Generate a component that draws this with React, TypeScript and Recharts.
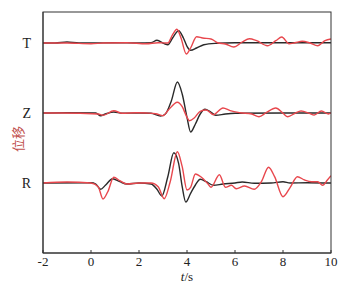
import React from 'react';
import { LineChart, Line, XAxis, YAxis } from 'recharts';

// trace offsets on the y axis (R, Z, T stacked bottom to top)
const traceNames = ['R', 'Z', 'T'];
const traceOffsets = [7, 14, 21];
const xTicks = [-2, 0, 2, 4, 6, 8, 10];
const xDomain = [-2, 10];
const yDomain = [0, 24.1];

// T component
const tBlackT = [-2, -1.5, -1, -0.5, 0, 1, 2, 2.5, 2.75, 3.05, 3.2, 3.4, 3.65, 3.85, 4.0, 4.15, 4.4, 4.7, 5.2, 6, 8, 10];
const blackT = [0, 0, 0.1, 0, 0, 0.02, 0, 0.03, 0.27, -0.07, -0.17, 0.5, 1.23, 0.5, -0.33, -0.73, -0.5, -0.17, -0.03, 0.03, 0.03, 0.03];
const tRedT = [-2, -1, 0, 0.5, 1.5, 2.3, 2.8, 3.2, 3.4, 3.58, 3.75, 3.97, 4.15, 4.4, 4.65, 5.0, 5.3, 5.6, 5.95, 6.3, 6.6, 6.9, 7.35, 7.7, 7.95, 8.25, 8.5, 8.8, 9.1, 9.45, 9.75, 10];
const redT = [0, 0, -0.07, 0, 0.03, -0.07, 0.03, 0, 0.83, 1.37, 0.5, -1.1, -0.5, 0.63, 0.5, 0.4, 0, -0.1, -0.4, 0.1, 0.43, 0.23, -0.27, 0.23, 0.6, -0.07, 0.03, 0.17, 0.03, -0.27, 0.23, 0.4];

// Z component
const tBlackZ = [-2, -1, 0.2, 0.4, 0.6, 0.95, 1.3, 2.0, 2.5, 2.9, 3.1, 3.35, 3.6, 3.8, 4.0, 4.15, 4.35, 4.55, 4.75, 4.95, 5.2, 5.6, 6.0, 8, 10];
const blackZ = [0, 0.03, 0, -0.27, -0.1, 0.1, -0.03, 0, -0.03, -0.3, -0.1, 1.23, 3.1, 1.9, -0.43, -1.9, -1.1, -0.1, 0.37, 0.17, -0.23, -0.1, -0.03, 0, 0];
const tRedZ = [-2, -1.2, 0.3, 0.5, 0.95, 1.3, 1.9, 2.3, 2.7, 3.0, 3.2, 3.6, 3.8, 4.0, 4.1, 4.3, 4.55, 4.8, 5.1, 5.5, 5.8, 6.2, 6.7, 7.0, 7.3, 7.7, 8.0, 8.2, 8.5, 8.75, 9.1, 9.3, 9.6, 9.9, 10];
const redZ = [0, 0, -0.1, -0.23, 0.23, -0.03, 0.03, 0, -0.07, -0.27, 0.23, 1.07, 0.63, -0.43, -0.77, -0.5, 0.17, 0.3, -0.17, 0.5, 0.23, 0.03, -0.1, -0.37, 0.03, 0.5, -0.03, -0.37, -0.03, 0.2, -0.03, -0.2, 0.2, -0.1, 0.03];

// R component
const tBlackR = [-2, 0, 0.2, 0.4, 0.6, 0.9, 1.2, 1.5, 2.0, 2.5, 2.75, 2.95, 3.2, 3.45, 3.65, 3.8, 3.95, 4.15, 4.35, 4.55, 4.8, 5.1, 5.5, 6.0, 6.3, 6.8, 7.5, 8.0, 8.3, 9.0, 10];
const blackR = [0, 0.03, -0.1, -0.63, -0.23, 0.43, 0.13, -0.1, 0, -0.1, -0.63, -1.3, 0.63, 3.03, 1.97, -0.37, -1.9, -1.03, -0.2, 0.37, 0.13, -0.23, -0.1, 0, 0.1, -0.03, 0, 0.13, 0, 0.03, 0];
const tRedR = [-2, -1, 0, 0.3, 0.5, 0.7, 0.95, 1.2, 1.5, 2.0, 2.5, 2.8, 3.05, 3.3, 3.6, 3.8, 4.0, 4.15, 4.35, 4.6, 4.85, 5.0, 5.35, 5.6, 5.85, 6.05, 6.4, 6.8, 7.1, 7.4, 7.65, 8.0, 8.3, 8.6, 8.9, 9.2, 9.45, 9.65, 9.85, 10];
const redR = [0, 0.1, 0, -0.37, -1.6, -0.87, 0.57, 0.23, -0.1, 0, 0, -0.37, -1.57, 0.13, 3.13, 1.63, -0.7, -0.43, 0.9, 0.57, -0.03, -0.43, 0.83, -0.43, -0.23, -0.57, -0.3, -0.63, 0.13, 1.57, 0.63, -1.37, -0.43, 0.63, 0.3, 0.13, 0.13, -0.23, 0.3, 0.73];

const RED = '#e8474d';
const BLACK = '#2a2a2a';
const AXIS = '#333';
const SERIF = '"Liberation Serif", "Times New Roman", serif';
const MARGIN_TOP = 12;

const toSeries = (ts: number[], vs: number[], offset: number) =>
  ts.map((t, i) => ({ t, v: offset + vs[i] }));

const traces = [
  { key: 'blackR', data: toSeries(tBlackR, blackR, traceOffsets[0]), color: BLACK },
  { key: 'blackZ', data: toSeries(tBlackZ, blackZ, traceOffsets[1]), color: BLACK },
  { key: 'blackT', data: toSeries(tBlackT, blackT, traceOffsets[2]), color: BLACK },
  { key: 'redR', data: toSeries(tRedR, redR, traceOffsets[0]), color: RED },
  { key: 'redZ', data: toSeries(tRedZ, redZ, traceOffsets[1]), color: RED },
  { key: 'redT', data: toSeries(tRedT, redT, traceOffsets[2]), color: RED },
];

// x-axis title, plus the box around the plot area (built from the axis viewBox)
const XLabel = (props: any) => {
  const vb = props.viewBox || { x: 43, y: 253, width: 288, height: 33 };
  return (
    <g>
      <rect
        x={vb.x}
        y={MARGIN_TOP}
        width={vb.width}
        height={vb.y - MARGIN_TOP}
        fill="none"
        stroke={AXIS}
        strokeWidth={1}
      />
      <text x={vb.x + vb.width / 2} y={vb.y + 28} textAnchor="middle" fontFamily={SERIF} fontSize={13} fill="#222">
        <tspan fontStyle="italic">t</tspan>
        <tspan>/s</tspan>
      </text>
    </g>
  );
};

const YLabel = () => (
  <text
    x={17}
    y={139}
    transform="rotate(-90 17 139)"
    textAnchor="middle"
    dominantBaseline="central"
    fontFamily='"Noto Sans CJK SC", sans-serif'
    fontSize={13}
    fill="#c0504d"
  >
    位移
  </text>
);

export default function App() {
  return (
    <div style={{ position: 'absolute', left: 0, top: 0, background: '#fff' }}>
      <LineChart width={344} height={286} margin={{ top: MARGIN_TOP, right: 13, bottom: 0, left: 0 }}>
        <XAxis
          dataKey="t"
          type="number"
          domain={xDomain}
          ticks={xTicks}
          allowDataOverflow
          height={33}
          stroke={AXIS}
          tickSize={-3}
          tickMargin={7}
          tick={{ fontFamily: SERIF, fontSize: 13, fill: '#222' }}
          label={<XLabel />}
        />
        <YAxis
          type="number"
          domain={yDomain}
          ticks={traceOffsets}
          allowDataOverflow
          width={43}
          stroke={AXIS}
          tickLine={false}
          tickMargin={6}
          tickFormatter={(v: number) => traceNames[traceOffsets.indexOf(v)]}
          tick={{ fontFamily: SERIF, fontSize: 14, fill: '#222' }}
          label={<YLabel />}
        />
        {traces.map((tr) => (
          <Line
            key={tr.key}
            data={tr.data}
            dataKey="v"
            type="monotone"
            stroke={tr.color}
            strokeWidth={1.4}
            dot={false}
            isAnimationActive={false}
          />
        ))}
      </LineChart>
    </div>
  );
}
